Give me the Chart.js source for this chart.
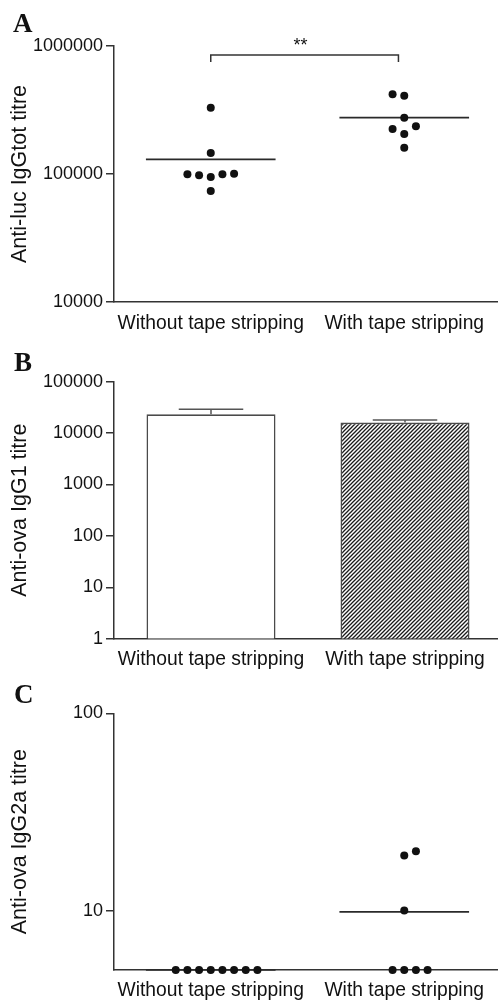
<!DOCTYPE html>
<html><head><meta charset="utf-8">
<script src="https://cdn.jsdelivr.net/npm/chart.js@4"></script>
<style>
html,body{margin:0;padding:0;background:#fff;overflow:hidden;width:498px;height:1000px;}
.panel{position:absolute;left:0;width:506px;}
.lbl{position:absolute;font-family:"Liberation Serif","Times New Roman",serif;font-weight:bold;font-size:27px;line-height:27px;color:#111;}
</style></head><body>
<div class="panel" style="top:0;height:335px"><canvas id="cA" width="505" height="335"></canvas></div>
<div class="panel" style="top:335px;height:335px"><canvas id="cB" width="502" height="335"></canvas></div>
<div class="panel" style="top:670px;height:330px"><canvas id="cC" width="505" height="330"></canvas></div>
<div class="lbl" style="left:13px;top:10px">A</div>
<div class="lbl" style="left:14px;top:349px">B</div>
<div class="lbl" style="left:14px;top:681px">C</div>
<script>
// ---------- DATA ----------
const categories = ['Without tape stripping', 'With tape stripping'];
// Panel A: anti-luc IgGtot titre, individual animals
const igGtotWithout = [330000, 146000, 99500, 97700, 94800, 99500, 100500, 73600];
const igGtotWithoutSlot = [0, 0, -2, -1, 0, 1, 2, 0];
const igGtotWith = [420000, 409500, 275500, 225000, 236000, 205400, 160500];
const igGtotWithSlot = [-1, 0, 0, -1, 1, 0, 0];
const igGtotMedian = [130000, 275500];
const ticksA = [10000, 100000, 1000000];
const sigBracket = { from: 0, to: 0.97, level: 850000, tip: 750000, label: '**' };
// Panel B: anti-ova IgG1 titre, mean + SEM
const igG1Mean = [23200, 16000];
const igG1Sem = [6000, 2000];
const ticksB = [1, 10, 100, 1000, 10000, 100000];
// Panel C: anti-ova IgG2a titre, individual animals
const igG2aWithout = [5, 5, 5, 5, 5, 5, 5, 5];
const igG2aWithoutSlot = [-3, -2, -1, 0, 1, 2, 3, 4];
const igG2aWith = [5, 5, 5, 5, 10, 19, 20];
const igG2aWithSlot = [-1, 0, 1, 2, 0, 0, 1];
const igG2aMedian = [5, 9.85];
const ticksC = [10, 100];

// ---------- STYLE ----------
const FONT = '"Liberation Sans", Arial, Helvetica, sans-serif';
const AXIS = '#333';
const TXT = '#111';
const SLOT = 0.0603;      // horizontal spacing of dots (category units)
const MED_HALF = 0.335;   // half-length of median line (category units)
const Y_W = 114;

function yAxis(min, max, ticks, title) {
  return {
    type: 'logarithmic', min, max,
    afterBuildTicks: s => { s.ticks = ticks.map(v => ({ value: v })); },
    afterFit: s => { s.width = Y_W; },
    grid: { drawOnChartArea: false, drawTicks: true, tickLength: 8, color: AXIS, lineWidth: 1.5 },
    border: { display: true, color: AXIS, width: 1.5 },
    ticks: { color: TXT, font: { family: FONT, size: 18 }, padding: 3, autoSkip: false, callback: v => String(v) },
    title: { display: true, text: title, color: TXT, font: { family: FONT, size: 21.5 }, padding: { top: 7, bottom: 0 } }
  };
}
function xLabelsCommon(h, pad) {
  return {
    afterFit: s => { s.height = h; },
    grid: { display: true, drawOnChartArea: false, drawTicks: false },
    border: { display: true, color: AXIS, width: 1.5 },
    ticks: { color: TXT, font: { family: FONT, size: 19.3 }, padding: pad, maxRotation: 0, minRotation: 0, autoSkip: false }
  };
}
function xLinear(h, pad) {
  const o = xLabelsCommon(h, pad);
  o.type = 'linear'; o.min = -0.5; o.max = 1.5;
  o.afterBuildTicks = s => { s.ticks = [{ value: 0 }, { value: 1 }]; };
  o.ticks.callback = v => categories[v];
  return o;
}
function dots(vals, slots, center) {
  return {
    type: 'scatter',
    data: vals.map((v, i) => ({ x: center + slots[i] * SLOT, y: v })),
    pointRadius: 4, pointHoverRadius: 4, backgroundColor: '#111', borderColor: '#111', borderWidth: 0,
    clip: false, order: 0
  };
}
function medianLine(m, center) {
  return {
    type: 'line', showLine: true,
    data: [{ x: center - MED_HALF, y: m }, { x: center + MED_HALF, y: m }],
    borderColor: '#2a2a2a', borderWidth: 1.6, pointRadius: 0, fill: false, clip: false, order: 1
  };
}
const baseOpts = (padTop) => ({
  responsive: false, animation: false,
  layout: { padding: { top: padTop, left: 0, right: 0, bottom: 0 } },
  plugins: { legend: { display: false }, tooltip: { enabled: false } }
});

// ---------- PANEL A ----------
const bracketPlugin = {
  id: 'bracket',
  afterDraw(chart) {
    const x = chart.scales.x, y = chart.scales.y, ctx = chart.ctx;
    const x1 = x.getPixelForValue(sigBracket.from), x2 = x.getPixelForValue(sigBracket.to);
    const yl = y.getPixelForValue(sigBracket.level), yt = y.getPixelForValue(sigBracket.tip);
    ctx.save();
    ctx.strokeStyle = AXIS; ctx.lineWidth = 1.5;
    ctx.beginPath();
    ctx.moveTo(x1, yt); ctx.lineTo(x1, yl); ctx.lineTo(x2, yl); ctx.lineTo(x2, yt);
    ctx.stroke();
    ctx.fillStyle = TXT; ctx.font = '18px ' + FONT;
    ctx.textAlign = 'center'; ctx.textBaseline = 'alphabetic';
    ctx.fillText(sigBracket.label, (x1 + x2) / 2 - 4, yl - 4);
    ctx.restore();
  }
};
const optsA = baseOpts(46);
optsA.scales = { x: xLinear(33, 10), y: yAxis(10000, 1000000, ticksA, 'Anti-luc IgGtot titre') };
new Chart(document.getElementById('cA'), {
  type: 'scatter',
  data: { datasets: [
    medianLine(igGtotMedian[0], 0), medianLine(igGtotMedian[1], 1),
    dots(igGtotWithout, igGtotWithoutSlot, 0), dots(igGtotWith, igGtotWithSlot, 1)
  ] },
  options: optsA,
  plugins: [bracketPlugin]
});

// ---------- PANEL B ----------
function hatchPattern() {
  const c = document.createElement('canvas'); c.width = 4; c.height = 4;
  const g = c.getContext('2d');
  g.fillStyle = '#fff'; g.fillRect(0, 0, 4, 4);
  g.strokeStyle = '#1a1a1a'; g.lineWidth = 1.3;
  g.beginPath();
  g.moveTo(0, 4); g.lineTo(4, 0);
  g.moveTo(-1, 1); g.lineTo(1, -1);
  g.moveTo(3, 5); g.lineTo(5, 3);
  g.stroke();
  return g.createPattern(c, 'repeat');
}
const errorBarPlugin = {
  id: 'errorBars',
  afterDatasetsDraw(chart) {
    const meta = chart.getDatasetMeta(0), y = chart.scales.y, ctx = chart.ctx;
    ctx.save(); ctx.strokeStyle = '#555'; ctx.lineWidth = 1.5;
    meta.data.forEach((bar, i) => {
      const top = y.getPixelForValue(igG1Mean[i] + igG1Sem[i]);
      const half = bar.width / 4;
      ctx.beginPath();
      ctx.moveTo(bar.x, bar.y); ctx.lineTo(bar.x, top);
      ctx.moveTo(bar.x - half, top); ctx.lineTo(bar.x + half, top);
      ctx.stroke();
    });
    ctx.restore();
  }
};
const optsB = baseOpts(46.7);
const xB = xLabelsCommon(31.3, 9); xB.type = 'category'; xB.offset = true;
optsB.scales = { x: xB, y: yAxis(1, 100000, ticksB, 'Anti-ova IgG1 titre') };
new Chart(document.getElementById('cB'), {
  type: 'bar',
  data: { labels: categories, datasets: [{
    data: igG1Mean,
    backgroundColor: ['#ffffff', hatchPattern()],
    borderColor: '#4a4a4a', borderWidth: 1.6,
    barPercentage: 0.665, categoryPercentage: 1
  }] },
  options: optsB,
  plugins: [errorBarPlugin]
});

// ---------- PANEL C ----------
const optsC = baseOpts(43.3);
optsC.scales = { x: xLinear(30, 9), y: yAxis(5, 100, ticksC, 'Anti-ova IgG2a titre') };
new Chart(document.getElementById('cC'), {
  type: 'scatter',
  data: { datasets: [
    medianLine(igG2aMedian[0], 0), medianLine(igG2aMedian[1], 1),
    dots(igG2aWithout, igG2aWithoutSlot, 0), dots(igG2aWith, igG2aWithSlot, 1)
  ] },
  options: optsC
});
</script>
</body></html>
